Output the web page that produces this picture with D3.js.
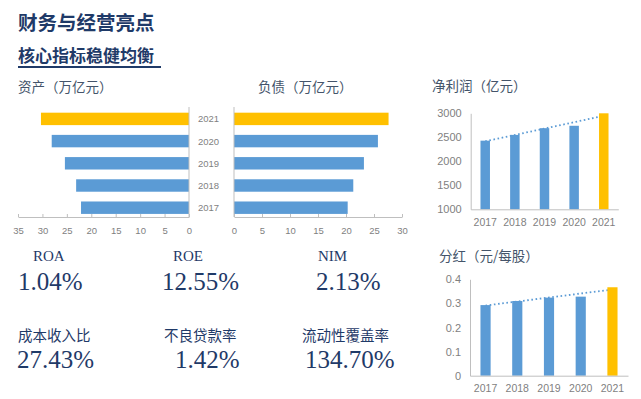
<!DOCTYPE html>
<html>
<head>
<meta charset="utf-8">
<script src="https://cdn.jsdelivr.net/npm/d3@7"></script>
<style>
  body { margin: 0; background: #fff; }
  svg { display: block; }
  .tick text { fill: #7f7f7f; font-family: "Liberation Sans", Arial, sans-serif; }
  .axis path, .axis line { stroke: #bfbfbf; }
</style>
</head>
<body>
<script>
var width = 641,
    height = 399;

var years = ["2017", "2018", "2019", "2020", "2021"];
var assets = [22.1, 23.1, 25.4, 28.1, 30.3];
var liabilities = [20.3, 21.3, 23.2, 25.7, 27.6];
var netProfit = [2430, 2550, 2690, 2740, 3000];
var dividend = [0.293, 0.310, 0.324, 0.328, 0.367];

var assetTicks = [35, 30, 25, 20, 15, 10, 5, 0];
var liabTicks = [0, 5, 10, 15, 20, 25, 30];
var profitTicks = [1000, 1500, 2000, 2500, 3000];
var divTicks = [0, 0.1, 0.2, 0.3, 0.4];

var kpiNames = ["ROA", "ROE", "NIM", "成本收入比", "不良贷款率", "流动性覆盖率"];
var kpiValues = ["1.04%", "12.55%", "2.13%", "27.43%", "1.42%", "134.70%"];

var BLUE = "#5b9bd5",
    GOLD = "#ffc000",
    NAVY = "#1f3a68",
    CJK = "'Noto Sans CJK SC', sans-serif";

function barColor(d, i) { return years[i] === "2021" ? GOLD : BLUE; }

var svg = d3.select("body").append("svg")
    .attr("width", width)
    .attr("height", height);

// headings
svg.append("text")
    .attr("x", 18).attr("y", 30)
    .style("font-family", CJK).style("font-weight", 700).style("font-size", "19.5px")
    .attr("fill", NAVY)
    .text("财务与经营亮点");

svg.append("text")
    .attr("x", 18).attr("y", 62)
    .style("font-family", CJK).style("font-weight", 700).style("font-size", "17px")
    .attr("fill", NAVY)
    .text("核心指标稳健均衡");

svg.append("line")
    .attr("x1", 18).attr("x2", 161).attr("y1", 67).attr("y2", 67)
    .attr("stroke", NAVY).attr("stroke-width", 2);

// next section heading, only its top shows at the page edge
svg.append("text")
    .attr("x", 18).attr("y", 415)
    .style("font-family", CJK).style("font-weight", 700).style("font-size", "17px")
    .attr("fill", NAVY)
    .text("资产质量持续优化");

function chartTitle(x, y, t) {
    svg.append("text")
        .attr("x", x).attr("y", y)
        .style("font-family", CJK).style("font-size", "13.5px")
        .attr("fill", "#44546a")
        .text(t);
}

chartTitle(18, 92, "资产（万亿元）");
chartTitle(258, 92, "负债（万亿元）");
chartTitle(432, 91, "净利润（亿元）");
chartTitle(439, 261, "分红（元/每股）");

// horizontal bar pair
var yBand = d3.scaleBand().domain(years.slice().reverse())
    .range([107.8, 218.8]).paddingInner(0.44).paddingOuter(0.22);

var assetX = d3.scaleLinear().domain([0, 35]).range([189, 18]);
var liabX = d3.scaleLinear().domain([0, 30]).range([234, 402]);

svg.selectAll(".asset").data(assets).enter().append("rect")
    .attr("class", "asset")
    .attr("x", function(d) { return assetX(d); })
    .attr("y", function(d, i) { return yBand(years[i]); })
    .attr("width", function(d) { return assetX(0) - assetX(d); })
    .attr("height", yBand.bandwidth())
    .attr("fill", barColor);

svg.selectAll(".liab").data(liabilities).enter().append("rect")
    .attr("class", "liab")
    .attr("x", liabX(0))
    .attr("y", function(d, i) { return yBand(years[i]); })
    .attr("width", function(d) { return liabX(d) - liabX(0); })
    .attr("height", yBand.bandwidth())
    .attr("fill", barColor);

[assetX(0), liabX(0)].forEach(function(x) {
    svg.append("line")
        .attr("x1", x).attr("x2", x).attr("y1", 107).attr("y2", 217)
        .attr("stroke", "#bfbfbf");
});

svg.append("g").attr("class", "axis")
    .attr("transform", "translate(0,217)")
    .call(d3.axisBottom(assetX).tickValues(assetTicks).tickSizeInner(-3).tickSizeOuter(0).tickPadding(10))
    .selectAll("text").style("font-size", "9.5px");

svg.append("g").attr("class", "axis")
    .attr("transform", "translate(0,217)")
    .call(d3.axisBottom(liabX).tickValues(liabTicks).tickSizeInner(-3).tickSizeOuter(0).tickPadding(10))
    .selectAll("text").style("font-size", "9.5px");

svg.selectAll(".yearlbl").data(years).enter().append("text")
    .attr("class", "yearlbl")
    .attr("x", 208.5)
    .attr("y", function(d) { return yBand(d) + yBand.bandwidth() / 2 + 3.5; })
    .attr("text-anchor", "middle")
    .attr("fill", "#7f7f7f")
    .style("font-family", "'Liberation Sans', Arial, sans-serif").style("font-size", "9.5px")
    .text(function(d) { return d; });

// column charts with linear trend
function trend(vals) {
    var n = vals.length, mx = (n - 1) / 2, my = d3.mean(vals), sxy = 0, sxx = 0;
    vals.forEach(function(v, i) { sxy += (i - mx) * (v - my); sxx += (i - mx) * (i - mx); });
    var b = sxy / sxx;
    return [my - b * mx, my + b * (n - 1 - mx)];
}

function columnChart(vals, ticks, x0, x1, y0, y1, yDomain, fmt) {
    var x = d3.scaleBand().domain(years).range([x0, x1]).paddingInner(0.68).paddingOuter(0.33);
    var y = d3.scaleLinear().domain(yDomain).range([y0, y1]);

    var t = trend(vals);
    svg.append("line")
        .attr("x1", x(years[0]) + x.bandwidth() / 2)
        .attr("x2", x(years[years.length - 1]) + x.bandwidth() / 2)
        .attr("y1", y(t[0])).attr("y2", y(t[1]))
        .attr("stroke", BLUE).attr("stroke-width", 1.8)
        .attr("stroke-dasharray", "1.6,2.6");

    svg.append("g").selectAll("rect").data(vals).enter().append("rect")
        .attr("x", function(d, i) { return x(years[i]); })
        .attr("y", function(d) { return y(d); })
        .attr("width", x.bandwidth())
        .attr("height", function(d) { return y0 - y(d); })
        .attr("fill", barColor);

    svg.append("g").attr("class", "axis")
        .attr("transform", "translate(" + x0 + ",0)")
        .call(d3.axisLeft(y).tickValues(ticks).tickFormat(fmt).tickSize(0).tickPadding(9))
        .selectAll("text").style("font-size", "11px");

    svg.append("g").attr("class", "axis")
        .attr("transform", "translate(0," + y0 + ")")
        .call(d3.axisBottom(x).tickSize(0).tickPadding(9))
        .selectAll("text").style("font-size", "10.5px");
}

columnChart(netProfit, profitTicks, 470.7, 618.3, 209.3, 113.3, [1000, 3000], d3.format("d"));
columnChart(dividend, divTicks, 470, 628, 375.7, 279.3, [0, 0.4], function(d) { return d === 0 ? "0" : d3.format(".1f")(d); });

// key ratios
var kpiLayout = [
    {lx: 33, ly: 261, vx: 18, vy: 290},
    {lx: 173, ly: 261, vx: 162, vy: 290},
    {lx: 318, ly: 261, vx: 316, vy: 290},
    {lx: 18, ly: 341, vx: 17, vy: 368},
    {lx: 164, ly: 341, vx: 175, vy: 368},
    {lx: 302, ly: 341, vx: 305, vy: 368}
];

var kpi = svg.selectAll(".kpi").data(kpiNames).enter().append("g").attr("class", "kpi");

kpi.append("text")
    .attr("x", function(d, i) { return kpiLayout[i].lx; })
    .attr("y", function(d, i) { return kpiLayout[i].ly; })
    .attr("fill", NAVY)
    .style("font-family", function(d, i) { return i < 3 ? "'Liberation Serif', serif" : CJK; })
    .style("font-size", function(d, i) { return i < 3 ? "15px" : "14.5px"; })
    .text(function(d) { return d; });

kpi.append("text")
    .attr("x", function(d, i) { return kpiLayout[i].vx; })
    .attr("y", function(d, i) { return kpiLayout[i].vy; })
    .attr("fill", NAVY)
    .style("font-family", "'Liberation Serif', serif")
    .style("font-size", "25px")
    .text(function(d, i) { return kpiValues[i]; });
</script>
</body>
</html>
